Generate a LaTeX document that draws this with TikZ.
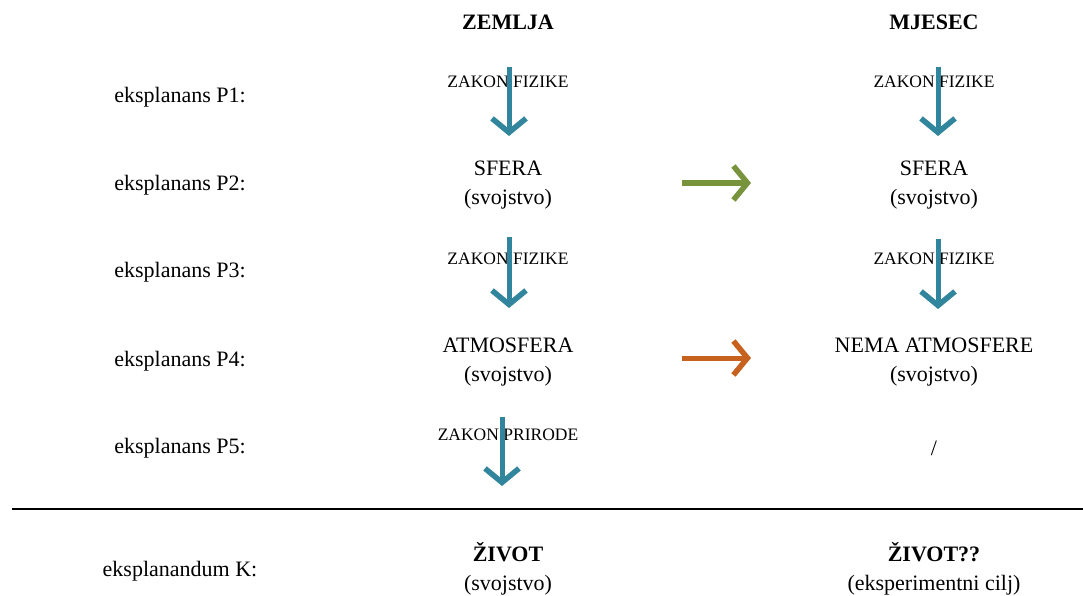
\documentclass[tikz,border=0pt]{standalone}
\usepackage{fontspec}
\setmainfont{Liberation Serif}
\usetikzlibrary{arrows.meta}

\definecolor{teal1}{RGB}{49,133,156}
\definecolor{green1}{RGB}{119,147,60}
\definecolor{orange1}{RGB}{199,98,30}

\tikzset{
  txt/.style={font=\fontsize{22}{29}\selectfont, align=center, inner sep=0pt},
  law/.style={font=\fontsize{17.5}{20}\selectfont, inner sep=0pt},
  hdr/.style={font=\fontsize{22}{29}\selectfont\bfseries, inner sep=0pt},
  arr/.style={line width=5pt, -{Straight Barb[length=14pt,width=34pt,line width=5.5pt]}},
}

\begin{document}
\begin{tikzpicture}[x=1pt, y=-1pt]
    \useasboundingbox (0,0) rectangle (1083,596);

    % headers
    \node[hdr] (hZ) at (508,22) {ZEMLJA};
    \node[hdr] (hM) at (934,22) {MJESEC};

    % left labels
    \foreach \i/\y in {1/97, 2/185, 3/272, 4/361, 5/448}
    \node[txt] (p\i) at (180,\y) {eksplanans P\i:};
    \node[txt] (k) at (180,571) {eksplanandum K:};

    % Zemlja
    \node[law] (lz1) at (508,82) {ZAKON FIZIKE};
    \node[txt] (zsfera) at (508,185) {SFERA\\(svojstvo)};
    \node[law] (lz2) at (508,259) {ZAKON FIZIKE};
    \node[txt] (zatm) at (508,362) {ATMOSFERA\\(svojstvo)};
    \node[law] (lz3) at (508,435) {ZAKON PRIRODE};
    \node[txt] (zziv) at (508,569) {\textbf{ŽIVOT}\\(svojstvo)};

    % Mjesec
    \node[law] (lm1) at (934,82) {ZAKON FIZIKE};
    \node[txt] (msfera) at (934,185) {SFERA\\(svojstvo)};
    \node[law] (lm2) at (934,259) {ZAKON FIZIKE};
    \node[txt] (matm) at (934,362) {NEMA ATMOSFERE\\(svojstvo)};
    \node[txt] (mnema) at (934,448) {/};
    \node[txt] (mziv) at (934,569) {\textbf{ŽIVOT??}\\(eksperimentni cilj)};

    % arrow ends
    \coordinate (za1) at (509,67);  \coordinate (zb1) at (509,136);
    \coordinate (za2) at (509,237); \coordinate (zb2) at (509,308);
    \coordinate (za3) at (502,417); \coordinate (zb3) at (502,486);
    \coordinate (ma1) at (938,67);  \coordinate (mb1) at (938,136);
    \coordinate (ma2) at (938,239); \coordinate (mb2) at (938,309);
    \coordinate (g1) at (682,183);  \coordinate (g2) at (751,183);
    \coordinate (o1) at (682,358);  \coordinate (o2) at (751,358);

    \foreach \a/\b in {za1/zb1, za2/zb2, za3/zb3, ma1/mb1, ma2/mb2}
    \draw[arr, teal1] (\a) -- (\b);
    \draw[arr, green1] (g1) -- (g2);
    \draw[arr, orange1] (o1) -- (o2);

    % line
    \coordinate (l1) at (12,509);
    \coordinate (l2) at (1083,509);
    \draw[line width=1.5pt] (l1) -- (l2);
\end{tikzpicture}
\end{document}
